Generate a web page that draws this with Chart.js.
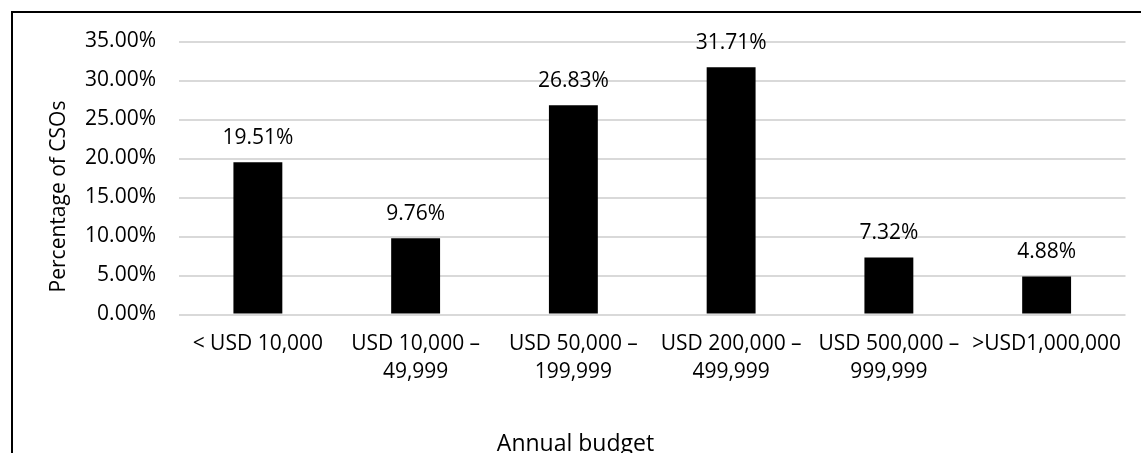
<!DOCTYPE html>
<html><head><meta charset="utf-8">
<script src="https://cdn.jsdelivr.net/npm/chart.js@4"></script>
<style>
html,body{margin:0;padding:0;background:#fff;}
#wrap{position:relative;width:1141px;height:453px;overflow:hidden;background:#fff;}
#frame{position:absolute;left:11px;top:11px;width:1200px;height:500px;border-left:2px solid #000;border-top:2px solid #000;}
canvas{position:absolute;left:0;top:0;}
</style></head><body>
<div id="wrap"><div id="frame"></div><canvas id="c" width="1141" height="453"></canvas></div>
<script>
const categories = [
  ["< USD 10,000"],
  ["USD 10,000 \u2013", "49,999"],
  ["USD 50,000 \u2013", "199,999"],
  ["USD 200,000 \u2013", "499,999"],
  ["USD 500,000 \u2013", "999,999"],
  [">USD1,000,000"]
];
const values = [19.51, 9.76, 26.83, 31.71, 7.32, 4.88];
const valueLabels = ["19.51%", "9.76%", "26.83%", "31.71%", "7.32%", "4.88%"];
const yTickValues = [0, 5, 10, 15, 20, 25, 30, 35];
const yTickLabels = ["0.00%", "5.00%", "10.00%", "15.00%", "20.00%", "25.00%", "30.00%", "35.00%"];
const yTitle = "Percentage of CSOs";
const xTitle = "Annual budget";

const FONT = "'Open Sans', 'Noto Sans', sans-serif";

const labelPlugin = {
  id: 'labels',
  afterDatasetsDraw(chart) {
    const ctx = chart.ctx;
    const meta = chart.getDatasetMeta(0);
    ctx.save();
    ctx.fillStyle = '#000';
    ctx.font = "21px " + FONT;
    ctx.textAlign = 'center';
    ctx.textBaseline = 'alphabetic';
    meta.data.forEach((bar, i) => {
      ctx.fillText(valueLabels[i], bar.x, bar.y - 18);
    });
    ctx.restore();
  },
  afterDraw(chart) {
    const ctx = chart.ctx;
    ctx.save();
    ctx.fillStyle = '#000';
    ctx.font = "21px " + FONT;
    ctx.textAlign = 'center';
    ctx.textBaseline = 'alphabetic';
    ctx.translate(57, 196.5);
    ctx.rotate(-Math.PI / 2);
    ctx.fillText(yTitle, 0, 8);
    ctx.restore();
    ctx.save();
    ctx.fillStyle = '#000';
    ctx.font = "23px " + FONT;
    ctx.textAlign = 'center';
    ctx.textBaseline = 'alphabetic';
    ctx.fillText(xTitle, 575.5, 451);
    ctx.restore();
  }
};

new Chart(document.getElementById('c'), {
  type: 'bar',
  data: {
    labels: categories,
    datasets: [{
      data: values,
      backgroundColor: '#000',
      borderWidth: 0,
      barPercentage: 0.31,
      categoryPercentage: 1.0
    }]
  },
  options: {
    responsive: false,
    animation: false,
    events: [],
    layout: { padding: { top: 41.5, right: 15.5, bottom: 0, left: 0 } },
    plugins: { legend: { display: false }, tooltip: { enabled: false }, title: { display: false } },
    scales: {
      x: {
        grid: { display: false, drawTicks: false },
        border: { display: false },
        ticks: {
          color: '#000',
          font: { family: FONT, size: 21, lineHeight: 1.333 },
          padding: 16,
          maxRotation: 0,
          autoSkip: false
        },
        afterFit(scale) { scale.height = 138.5; }
      },
      y: {
        min: 0,
        max: 35,
        grid: { color: '#d9d9d9', lineWidth: 2, drawTicks: false },
        border: { display: false },
        afterBuildTicks(scale) { scale.ticks = yTickValues.map(v => ({ value: v })); },
        ticks: {
          color: '#000',
          font: { family: FONT, size: 21 },
          padding: 23,
          callback(value) { return yTickLabels[yTickValues.indexOf(value)]; }
        },
        afterFit(scale) { scale.width = 179; }
      }
    }
  },
  plugins: [labelPlugin]
});
</script>
</body></html>
